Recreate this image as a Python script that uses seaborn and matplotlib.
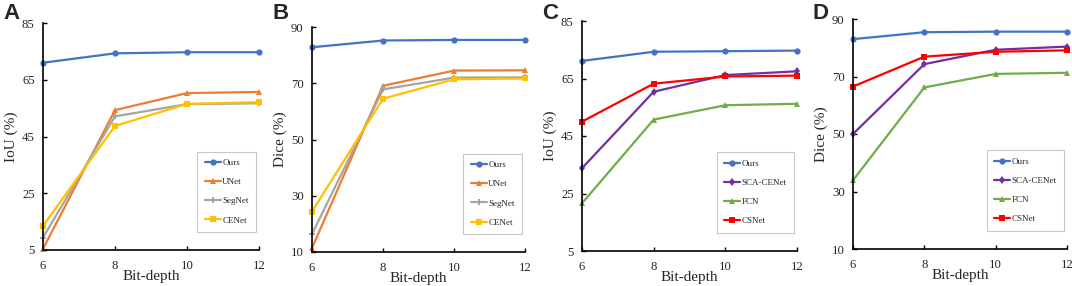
import matplotlib
matplotlib.use("Agg")
import matplotlib.pyplot as plt
import seaborn as sns
import pandas as pd

sns.set_theme(style="ticks")
plt.rcParams['font.family'] = ['Liberation Serif', 'DejaVu Serif']

bits = [6, 8, 10, 12]

# Panel A: IoU
a_ours = [71.0, 74.3, 74.7, 74.7]
a_unet = [5.4, 54.3, 60.3, 60.7]
a_segnet = [9.4, 52.1, 56.4, 56.7]
a_cenet = [13.5, 48.7, 56.5, 57.1]

# Panel B: Dice
b_ours = [82.8, 85.2, 85.4, 85.4]
b_unet = [11.4, 69.1, 74.5, 74.6]
b_segnet = [16.4, 67.8, 72.0, 72.1]
b_cenet = [24.4, 64.5, 71.4, 71.7]

# Panel C: IoU
c_ours = [71.1, 74.3, 74.5, 74.7]
c_sca = [33.8, 60.4, 66.2, 67.5]
c_fcn = [21.6, 50.7, 55.7, 56.2]
c_csnet = [50.0, 63.2, 65.7, 66.0]

# Panel D: Dice
d_ours = [83.0, 85.4, 85.6, 85.6]
d_sca = [50.0, 74.3, 79.3, 80.4]
d_fcn = [33.9, 66.2, 70.9, 71.3]
d_csnet = [66.5, 76.9, 78.6, 79.1]

names_ab = ["Ours", "UNet", "SegNet", "CENet"]
names_cd = ["Ours", "SCA-CENet", "FCN", "CSNet"]

style = {
    "Ours": ("#4472C4", "o", 4.5),
    "UNet": ("#ED7D31", "^", 5),
    "SegNet": ("#A5A5A5", "P", 4.5),
    "CENet": ("#FFC000", "s", 4.5),
    "SCA-CENet": ("#7030A0", "d", 4.5),
    "FCN": ("#70AD47", "^", 5),
    "CSNet": ("#FF0000", "s", 4.5),
}

panels = [
    ("A", "IoU (%)", [5, 25, 45, 65, 85], names_ab, [a_ours, a_unet, a_segnet, a_cenet], (43, 23, 259, 250)),
    ("B", "Dice (%)", [10, 30, 50, 70, 90], names_ab, [b_ours, b_unet, b_segnet, b_cenet], (312, 27, 525, 252)),
    ("C", "IoU (%)", [5, 25, 45, 65, 85], names_cd, [c_ours, c_sca, c_fcn, c_csnet], (582, 21, 797, 251)),
    ("D", "Dice (%)", [10, 30, 50, 70, 90], names_cd, [d_ours, d_sca, d_fcn, d_csnet], (853, 19, 1067, 249)),
]

W, H = 1072, 286
fig = plt.figure(figsize=(W / 100, H / 100), dpi=100)
fig.patch.set_facecolor("white")

for letter, ylabel, yticks, names, series, (x0, y0, x1, y1) in panels:
    ax = fig.add_axes([x0 / W, 1 - y1 / H, (x1 - x0) / W, (y1 - y0) / H])
    for name, vals in zip(names, series):
        color, marker, ms = style[name]
        df = pd.DataFrame({"bits": bits, "val": vals})
        sns.lineplot(data=df, x="bits", y="val", ax=ax, color=color, marker=marker,
                     markersize=ms, linewidth=1.6, markeredgewidth=0, label=name, clip_on=False)
    ax.set_xlim(6, 12)
    ax.set_ylim(yticks[0], yticks[-1])
    ax.set_xticks(bits)
    ax.set_yticks(yticks)
    ax.tick_params(axis="both", labelsize=9.2, length=3, width=1, color="black", direction="in")
    ax.tick_params(axis="x", pad=7)
    ax.tick_params(axis="y", pad=6)
    ax.set_xlabel("Bit-depth", fontsize=11, labelpad=-1)
    ax.set_ylabel(ylabel, fontsize=11, labelpad=3)
    for s in ["top", "right"]:
        ax.spines[s].set_visible(False)
    for s in ["left", "bottom"]:
        ax.spines[s].set_color("black")
        ax.spines[s].set_linewidth(1.2)
    ax.set_facecolor("white")
    leg = ax.legend(loc="lower right", bbox_to_anchor=(0.985, 0.08), fontsize=6.5,
                    frameon=True, fancybox=False, handlelength=1.8, labelspacing=1.2,
                    borderpad=0.8, handletextpad=0.15, borderaxespad=0)
    leg.get_frame().set_edgecolor("#BBBBBB")
    leg.get_frame().set_linewidth(0.8)
    fig.text((x0 - 40) / W, 1 - 3 / H, letter, fontsize=16, fontweight="bold",
             family="Liberation Sans", va="top", ha="left")

fig.savefig("out.png", dpi=100)
